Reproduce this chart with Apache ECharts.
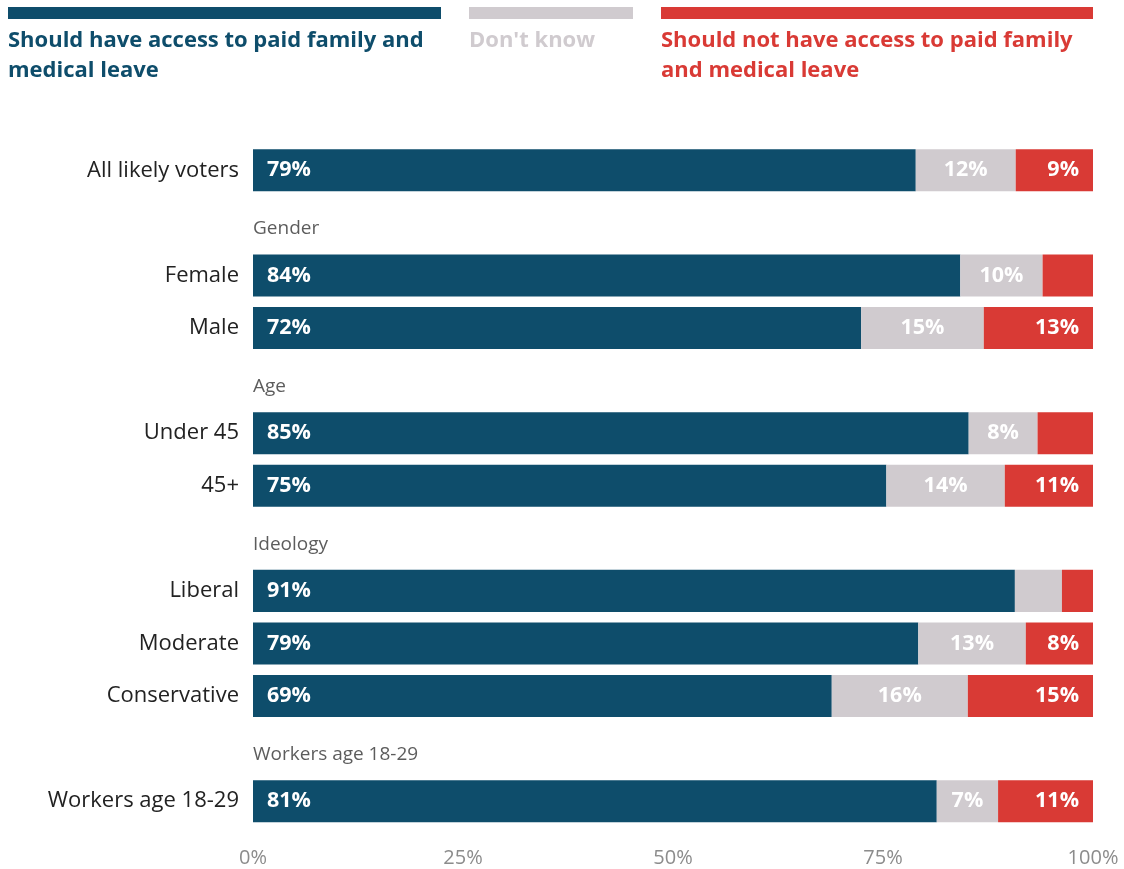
<!DOCTYPE html>
<html>
<head>
<meta charset="utf-8">
<script src="https://cdn.jsdelivr.net/npm/echarts@6/dist/echarts.min.js"></script>
<style>
html,body{margin:0;padding:0;background:#fff;}
#chart{width:1124px;height:869px;}
</style>
</head>
<body>
<div id="chart"></div>
<script>
// Rows (header rows have no bars)
const categories = ['All likely voters', 'Gender', 'Female', 'Male', 'Age', 'Under 45', '45+', 'Ideology', 'Liberal', 'Moderate', 'Conservative', 'Workers age 18-29 (group)', 'Workers age 18-29'];
const headerRows = ['Gender', 'Age', 'Ideology', 'Workers age 18-29 (group)'];
const headerLabels = ['Gender', 'Age', 'Ideology', 'Workers age 18-29'];
const seriesNames = ['Should have access to paid family and medical leave', "Don't know", 'Should not have access to paid family and medical leave'];
const shouldHave = [78.9, null, 84.2, 72.4, null, 85.2, 75.4, null, 90.7, 79.2, 68.9, null, 81.4];
const dontKnow   = [11.9, null, 9.8, 14.6, null, 8.2, 14.1, null, 5.6, 12.8, 16.2, null, 7.3];
const shouldNot  = [9.2, null, 6.0, 13.0, null, 6.6, 10.5, null, 3.7, 8.0, 14.9, null, 11.3];
const xTicks = [0, 25, 50, 75, 100];

const FONT = 'Open Sans';
const BLUE = '#0e4d6b', GRAY = '#d0cbcf', RED = '#d93a35';

const chart = echarts.init(document.getElementById('chart'));
const fmt = p => (p.value == null || p.value < 7) ? '' : Math.round(p.value) + '%';
const dataLabel = (pos, dist) => ({
  show: true, position: pos, distance: dist, formatter: fmt,
  color: '#fff', fontFamily: FONT, fontWeight: 'bold', fontSize: 21.5
});

chart.setOption({
  animation: false,
  grid: { left: 253, right: 31, top: 144, bottom: 41.5, containLabel: false },
  xAxis: {
    type: 'value', min: 0, max: 100, interval: 25,
    axisLine: { show: false }, axisTick: { show: false }, splitLine: { show: false },
    axisLabel: { margin: 21, color: '#8c8c8c', fontFamily: FONT, fontSize: 20,
      formatter: v => xTicks.includes(v) ? v + '%' : '' }
  },
  yAxis: {
    type: 'category', data: categories, inverse: true,
    axisLine: { show: false }, axisTick: { show: false },
    axisLabel: { margin: 14, color: '#222', fontFamily: FONT, fontSize: 22,
      formatter: v => headerRows.includes(v) ? '' : v }
  },
  graphic: [
    { type: 'rect', left: 8, top: 7, shape: { width: 433, height: 12 }, style: { fill: BLUE } },
    { type: 'rect', left: 469, top: 7, shape: { width: 164, height: 12 }, style: { fill: GRAY } },
    { type: 'rect', left: 661, top: 7, shape: { width: 432, height: 12 }, style: { fill: RED } },
    { type: 'text', left: 8, top: 26, style: { text: 'Should have access to paid family and\nmedical leave', fill: BLUE, font: 'bold 22px "Open Sans"', lineHeight: 30 } },
    { type: 'text', left: 469, top: 26, style: { text: "Don't know", fill: GRAY, font: 'bold 22px "Open Sans"', lineHeight: 30 } },
    { type: 'text', left: 661, top: 26, style: { text: 'Should not have access to paid family\nand medical leave', fill: RED, font: 'bold 22px "Open Sans"', lineHeight: 30 } }
  ],
  series: [
    { name: seriesNames[0], type: 'bar', stack: 'total', barCategoryGap: '20%', data: shouldHave,
      itemStyle: { color: BLUE }, label: dataLabel('insideLeft', 14) },
    { name: seriesNames[1], type: 'bar', stack: 'total', data: dontKnow,
      itemStyle: { color: GRAY }, label: dataLabel('inside', 0) },
    { name: seriesNames[2], type: 'bar', stack: 'total', data: shouldNot,
      itemStyle: { color: RED }, label: dataLabel('insideRight', 14) },
    { name: 'headers', type: 'scatter', symbolSize: 0, silent: true,
      data: headerRows.map((h, i) => ({ value: [0, h], name: headerLabels[i] })),
      label: { show: true, position: 'right', distance: 0, offset: [0, 6], formatter: p => p.name,
        color: '#333', fontFamily: FONT, fontSize: 19 } }
  ]
});
</script>
</body>
</html>
